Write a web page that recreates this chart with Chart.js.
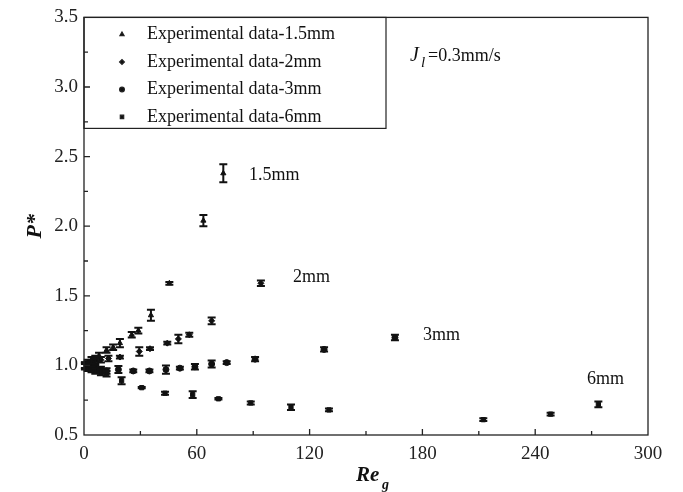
<!DOCTYPE html>
<html>
<head>
<meta charset="utf-8">
<script src="https://cdn.jsdelivr.net/npm/chart.js@4.4.1/dist/chart.umd.min.js"></script>
<style>
  body { margin: 0; background: #fff; }
  #wrap { width: 683px; height: 492px; }
</style>
</head>
<body>
<div id="wrap"><canvas id="pChart"></canvas></div>
<script>
// Re_g values and P* values for each wire diameter
const x15 = [0.5, 2, 4, 6, 8, 12, 15.5, 19.1, 25.4, 28.9, 35.6, 45.4, 63.5, 74.1];
const y15 = [1.0, 1.02, 1.04, 1.05, 1.07, 1.11, 1.13, 1.16, 1.22, 1.25, 1.36, 1.59, 2.04, 2.38];
const e15 = [0.02, 0.02, 0.02, 0.02, 0.02, 0.02, 0.02, 0.03, 0.02, 0.02, 0.04, 0.01, 0.04, 0.065];

const x2 = [0.5, 2, 4, 6, 9, 13, 19.1, 29.4, 35.1, 44.3, 50.2, 56, 67.9, 94.1];
const y2 = [1.0, 1.01, 1.02, 1.03, 1.04, 1.05, 1.06, 1.10, 1.12, 1.16, 1.19, 1.22, 1.32, 1.59];
const e2 = [0.02, 0.02, 0.02, 0.02, 0.02, 0.02, 0.01, 0.03, 0.01, 0.01, 0.03, 0.015, 0.025, 0.02];

const x3 = [0.5, 2, 4, 6, 9, 12, 18.3, 26.2, 34.8, 43.6, 51, 59, 67.9, 75.9, 91, 127.7, 165.4];
const y3 = [1.0, 0.99, 0.99, 0.98, 0.97, 0.96, 0.97, 0.96, 0.96, 0.97, 0.98, 0.99, 1.01, 1.02, 1.045, 1.115, 1.20];
const e3 = [0.02, 0.02, 0.02, 0.02, 0.02, 0.02, 0.025, 0.01, 0.01, 0.03, 0.01, 0.02, 0.025, 0.01, 0.015, 0.015, 0.02];

const x6 = [0.5, 2, 4, 6, 9, 12, 20, 30.7, 43.1, 57.8, 71.5, 88.7, 110.1, 130.3, 212.4, 248.2, 273.6];
const y6 = [0.99, 0.98, 0.97, 0.96, 0.95, 0.94, 0.89, 0.84, 0.80, 0.79, 0.76, 0.73, 0.70, 0.68, 0.61, 0.65, 0.72];
const e6 = [0.02, 0.02, 0.02, 0.02, 0.02, 0.02, 0.025, 0.005, 0.01, 0.025, 0.005, 0.01, 0.02, 0.01, 0.01, 0.01, 0.02];

const seriesNames = ['Experimental data-1.5mm', 'Experimental data-2mm', 'Experimental data-3mm', 'Experimental data-6mm'];
const xTicks = [0, 60, 120, 180, 240, 300];
const yTicks = [0.5, 1.0, 1.5, 2.0, 2.5, 3.0, 3.5];

const serif = '"Liberation Serif", "Times New Roman", serif';

function pts(xs, ys) {
    return xs.map((x, i) => ({ x: x, y: ys[i] }));
}

// error bars with caps
const errorBars = {
    id: 'errorBars',
    afterDatasetsDraw(chart) {
        const ctx = chart.ctx;
        const xs = chart.scales.x, ys = chart.scales.y;
        ctx.save();
        ctx.strokeStyle = '#111';
        ctx.lineWidth = 2;
        chart.data.datasets.forEach((ds) => {
            ds.data.forEach((p, j) => {
                const e = ds.errors[j];
                const px = xs.getPixelForValue(p.x);
                const top = ys.getPixelForValue(p.y + e);
                const bot = ys.getPixelForValue(p.y - e);
                ctx.beginPath();
                ctx.moveTo(px, top); ctx.lineTo(px, bot);
                ctx.moveTo(px - 4, top); ctx.lineTo(px + 4, top);
                ctx.moveTo(px - 4, bot); ctx.lineTo(px + 4, bot);
                ctx.stroke();
            });
        });
        ctx.restore();
    }
};

// frame, inward ticks, legend box and annotations
const decorations = {
    id: 'decorations',
    afterDraw(chart) {
        const ctx = chart.ctx;
        const a = chart.chartArea;
        const xs = chart.scales.x, ys = chart.scales.y;
        ctx.save();
        ctx.strokeStyle = '#222';
        ctx.lineWidth = 1.3;
        ctx.strokeRect(a.left, a.top, a.right - a.left, a.bottom - a.top);

        // inward ticks
        ctx.beginPath();
        for (let v = 30; v < 300; v += 30) {
            const px = xs.getPixelForValue(v);
            const len = (v % 60 === 0) ? 6 : 4;
            ctx.moveTo(px, a.bottom); ctx.lineTo(px, a.bottom - len);
        }
        for (let v = 0.75; v < 3.5; v += 0.25) {
            const py = ys.getPixelForValue(v);
            const len = (Math.abs(v * 2 - Math.round(v * 2)) < 0.01) ? 6 : 4;
            ctx.moveTo(a.left, py); ctx.lineTo(a.left + len, py);
        }
        ctx.stroke();

        // legend
        ctx.lineWidth = 1.2;
        ctx.strokeRect(a.left, a.top, 302, 111);
        ctx.fillStyle = '#111';
        ctx.font = '18px ' + serif;
        ctx.textBaseline = 'middle';
        chart.data.datasets.forEach((ds, i) => {
            const ly = a.top + 17 + i * 27.5;
            Chart.helpers.drawPoint(ctx, { pointStyle: ds.pointStyle, radius: 2.4, rotation: 0, borderWidth: 1 }, 122, ly);
            ctx.fillStyle = '#111';
            ctx.fillText(seriesNames[i], 147, ly);
        });

        // J_l = 0.3mm/s
        ctx.font = 'italic 20px ' + serif;
        ctx.fillText('J', 410, 56);
        ctx.font = 'italic 15px ' + serif;
        ctx.fillText('l', 421, 63);
        ctx.font = '18px ' + serif;
        ctx.fillText('=0.3mm/s', 428, 56);

        // series annotations
        ctx.fillText('1.5mm', 249, 175);
        ctx.fillText('2mm', 293, 277);
        ctx.fillText('3mm', 423, 335);
        ctx.fillText('6mm', 587, 379);

        // x axis title Re_g
        ctx.font = 'bold italic 21px ' + serif;
        ctx.fillText('Re', 356, 476);
        ctx.font = 'bold italic 14px ' + serif;
        ctx.fillText('g', 382, 485);
        ctx.restore();
    }
};

const data = {
    datasets: [
        { label: seriesNames[0], data: pts(x15, y15), errors: e15, pointStyle: 'triangle' },
        { label: seriesNames[1], data: pts(x2, y2), errors: e2, pointStyle: 'rectRot' },
        { label: seriesNames[2], data: pts(x3, y3), errors: e3, pointStyle: 'circle' },
        { label: seriesNames[3], data: pts(x6, y6), errors: e6, pointStyle: 'rect' }
    ].map(ds => Object.assign(ds, {
        backgroundColor: '#111',
        borderColor: '#111',
        pointRadius: 3,
        borderWidth: 1,
        showLine: false
    }))
};

const config = {
    type: 'scatter',
    data: data,
    options: {
        responsive: true,
        maintainAspectRatio: false,
        animation: false,
        layout: { padding: { top: 17, right: 35, left: 0, bottom: 0 } },
        plugins: {
            legend: { display: false },
            tooltip: { enabled: false }
        },
        scales: {
            x: {
                type: 'linear',
                min: 0, max: 300,
                afterFit: (s) => { s.height = 57; },
                afterBuildTicks: (s) => { s.ticks = xTicks.map(v => ({ value: v })); },
                grid: { display: false, drawTicks: false },
                border: { display: false },
                ticks: { color: '#222', font: { family: serif, size: 19 }, padding: 8, maxRotation: 0 }
            },
            y: {
                type: 'linear',
                min: 0.5, max: 3.5,
                afterFit: (s) => { s.width = 84; },
                afterBuildTicks: (s) => { s.ticks = yTicks.map(v => ({ value: v })); },
                grid: { display: false, drawTicks: false },
                border: { display: false },
                title: { display: true, text: 'P*', color: '#111', font: { family: serif, size: 22, style: 'italic', weight: 'bold' }, padding: { top: 22, bottom: 0 } },
                ticks: { color: '#222', font: { family: serif, size: 19 }, padding: 6, callback: (v) => Number(v).toFixed(1) }
            }
        }
    },
    plugins: [errorBars, decorations]
};

const pChart = new Chart(document.getElementById('pChart'), config);
</script>
</body>
</html>
